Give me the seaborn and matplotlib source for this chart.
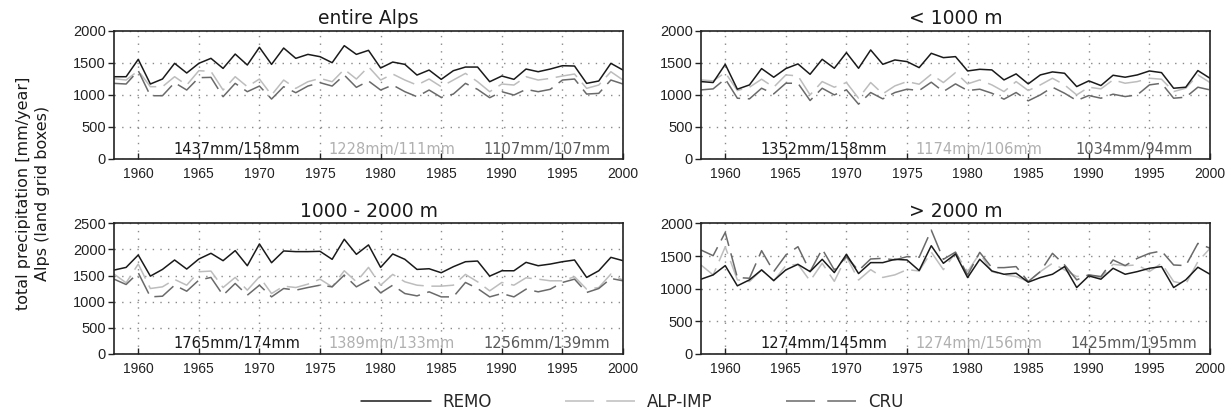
import numpy as np
import pandas as pd
import seaborn as sns
import matplotlib
matplotlib.use("Agg")
import matplotlib.pyplot as plt
from matplotlib.lines import Line2D

years = list(range(1958, 2001))

# ---- entire Alps ----
remo_all = [1281, 1281, 1552, 1167, 1245, 1490, 1339, 1490, 1568, 1411, 1635, 1464, 1740, 1474,
            1729, 1568, 1630, 1594, 1500, 1766, 1630, 1693, 1417, 1510, 1474, 1307, 1385, 1240,
            1375, 1432, 1432, 1203, 1292, 1240, 1401, 1359, 1401, 1453, 1448, 1177, 1214, 1490, 1385]
alp_all = [1250, 1229, 1375, 1125, 1125, 1281, 1151, 1375, 1365, 1073, 1281, 1125, 1245, 995,
           1229, 1099, 1203, 1255, 1203, 1396, 1245, 1437, 1229, 1323, 1229, 1151, 1245, 1125,
           1229, 1333, 1203, 1047, 1167, 1151, 1281, 1229, 1255, 1292, 1323, 1099, 1151, 1359, 1229]
cru_all = [1177, 1167, 1375, 984, 984, 1188, 1073, 1266, 1271, 969, 1177, 1047, 1135, 932,
           1125, 1031, 1135, 1188, 1135, 1307, 1115, 1214, 1073, 1151, 1047, 969, 1073, 958,
           1010, 1177, 1083, 953, 1047, 995, 1083, 1047, 1083, 1229, 1245, 1010, 1021, 1229, 1167]

# ---- < 1000 m ----
remo_lt1000 = [1205, 1190, 1475, 1086, 1153, 1408, 1273, 1408, 1481, 1319, 1553, 1413, 1657, 1413,
               1699, 1475, 1543, 1517, 1423, 1647, 1579, 1595, 1371, 1397, 1387, 1231, 1325, 1169,
               1309, 1356, 1335, 1127, 1216, 1143, 1304, 1273, 1309, 1371, 1345, 1101, 1117, 1377, 1257]
alp_lt1000 = [1231, 1216, 1345, 1065, 1117, 1242, 1117, 1309, 1294, 997, 1205, 1117, 1190, 945,
              1190, 1013, 1138, 1205, 1164, 1319, 1190, 1345, 1169, 1231, 1153, 1049, 1205, 1065,
              1153, 1257, 1153, 997, 1117, 1091, 1231, 1179, 1205, 1257, 1242, 1049, 1101, 1309, 1190]
cru_lt1000 = [1075, 1091, 1247, 945, 935, 1101, 1013, 1179, 1179, 909, 1101, 997, 1075, 852,
              1034, 935, 1034, 1086, 1065, 1195, 1049, 1169, 1065, 1086, 1023, 930, 1034, 904,
              997, 1117, 1023, 909, 987, 945, 1008, 971, 997, 1153, 1179, 945, 961, 1117, 1075]

# ---- 1000 - 2000 m ----
remo_mid = [1604, 1656, 1894, 1488, 1617, 1798, 1624, 1817, 1927, 1785, 1978, 1688, 2107, 1746,
            1972, 1959, 1959, 1965, 1811, 2197, 1907, 2088, 1656, 1914, 1811, 1617, 1630, 1553,
            1669, 1765, 1778, 1488, 1591, 1591, 1753, 1688, 1720, 1765, 1798, 1463, 1591, 1849, 1785]
alp_mid = [1527, 1360, 1720, 1250, 1282, 1424, 1314, 1572, 1585, 1269, 1463, 1218, 1476, 1153,
           1295, 1269, 1334, 1430, 1282, 1591, 1379, 1656, 1314, 1521, 1379, 1314, 1295, 1295,
           1314, 1521, 1379, 1205, 1366, 1314, 1456, 1430, 1398, 1398, 1476, 1237, 1269, 1527, 1411]
cru_mid = [1430, 1327, 1553, 1089, 1102, 1314, 1198, 1411, 1463, 1121, 1347, 1121, 1314, 1089,
           1250, 1218, 1269, 1314, 1282, 1508, 1282, 1411, 1166, 1314, 1153, 1108, 1186, 1089,
           1089, 1366, 1250, 1089, 1153, 1089, 1237, 1186, 1237, 1366, 1430, 1173, 1250, 1443, 1398]

# ---- > 2000 m ----
remo_gt2000 = [1143, 1209, 1352, 1041, 1133, 1286, 1122, 1286, 1372, 1260, 1449, 1245, 1526, 1230,
               1398, 1398, 1449, 1439, 1276, 1658, 1388, 1530, 1168, 1449, 1270, 1219, 1235, 1097,
               1168, 1219, 1337, 1015, 1194, 1143, 1311, 1219, 1260, 1311, 1337, 1015, 1133, 1327, 1219]
alp_gt2000 = [1362, 1209, 1640, 1133, 1107, 1286, 1117, 1352, 1372, 1117, 1388, 1110, 1490, 1130,
              1290, 1170, 1210, 1290, 1270, 1560, 1290, 1550, 1260, 1541, 1260, 1209, 1184, 1107,
              1260, 1388, 1286, 1184, 1209, 1168, 1372, 1352, 1362, 1260, 1388, 1107, 1066, 1413, 1617]
cru_gt2000 = [1592, 1505, 1862, 1168, 1158, 1582, 1260, 1515, 1643, 1260, 1607, 1286, 1490, 1276,
              1454, 1464, 1439, 1490, 1480, 1898, 1449, 1560, 1209, 1556, 1321, 1321, 1337, 1107,
              1260, 1541, 1362, 1133, 1209, 1184, 1439, 1352, 1464, 1541, 1577, 1362, 1352, 1694, 1620]

datasets = ["REMO", "ALP-IMP", "CRU"]
panel_titles = ["entire Alps", "< 1000 m", "1000 - 2000 m", "> 2000 m"]
panel_series = [
    (remo_all, alp_all, cru_all),
    (remo_lt1000, alp_lt1000, cru_lt1000),
    (remo_mid, alp_mid, cru_mid),
    (remo_gt2000, alp_gt2000, cru_gt2000),
]
panel_stats = [
    ["1437mm/158mm", "1228mm/111mm", "1107mm/107mm"],
    ["1352mm/158mm", "1174mm/106mm", "1034mm/94mm"],
    ["1765mm/174mm", "1389mm/133mm", "1256mm/139mm"],
    ["1274mm/145mm", "1274mm/156mm", "1425mm/195mm"],
]
panel_ymax = [2000, 2000, 2500, 2000]
xticks = [1960, 1965, 1970, 1975, 1980, 1985, 1990, 1995, 2000]

colors = {"REMO": "#1a1a1a", "ALP-IMP": "#bdbdbd", "CRU": "#6a6a6a"}
text_colors = ["#1a1a1a", "#b0b0b0", "#5a5a5a"]
dashes = {"REMO": "", "ALP-IMP": (15, 5), "CRU": (15, 5)}

sns.set_style("white")
plt.rcParams["font.family"] = ["DejaVu Sans"]

W, H = 1232, 411
fig = plt.figure(figsize=(W / 100, H / 100), dpi=100)

# axes boxes in pixels: (left, top, right, bottom)
boxes = [(114, 30.7, 623, 158.7), (701, 30.7, 1210, 158.7),
         (114, 223.5, 623, 353.5), (701, 223.5, 1210, 353.5)]

for i, (box, title, series, stats, ymax) in enumerate(
        zip(boxes, panel_titles, panel_series, panel_stats, panel_ymax)):
    l, t, r, b = box
    ax = fig.add_axes([l / W, 1 - b / H, (r - l) / W, (b - t) / H])
    df = pd.DataFrame({
        "year": years * 3,
        "value": list(series[0]) + list(series[1]) + list(series[2]),
        "dataset": sum([[d] * len(years) for d in datasets], []),
    })
    # draw lighter series first so REMO is on top
    sns.lineplot(data=df, x="year", y="value", hue="dataset", style="dataset",
                 hue_order=["ALP-IMP", "CRU", "REMO"], style_order=["ALP-IMP", "CRU", "REMO"],
                 palette=colors, dashes=dashes, linewidth=1.1, legend=False, ax=ax)
    ax.set_xlim(1958, 2000)
    ax.set_ylim(0, ymax)
    ax.set_xticks(xticks)
    ax.set_yticks(list(range(0, ymax + 1, 500)))
    ax.grid(True, color="#8a8a8a", linestyle=(0, (1, 4.5)), linewidth=1.0)
    ax.set_xlabel("")
    ax.set_ylabel("")
    for s in ax.spines.values():
        s.set_visible(True)
        s.set_color("#222222")
        s.set_linewidth(1.2)
    ax.tick_params(axis="x", bottom=True, direction="in", length=4, width=1, pad=6,
                   labelsize=10, labelfontfamily="Liberation Sans", colors="#222222")
    ax.tick_params(axis="y", left=True, direction="out", length=4, width=1, pad=2,
                   labelsize=10.5, labelfontfamily="Liberation Sans", colors="#222222")
    ax.set_title(title, fontsize=13.5, pad=5, color="#1a1a1a")
    for xf, txt, c in zip([0.242, 0.546, 0.851], stats, text_colors):
        ax.text(xf, 0.075, txt, transform=ax.transAxes, ha="center", va="center",
                fontsize=10.5, color=c)

fig.text(33 / W, 1 - 193 / H, "total precipitation [mm/year]\nAlps (land grid boxes)",
         rotation=90, ha="center", va="center", fontsize=11.5, multialignment="center",
         linespacing=1.3, color="#1a1a1a")

handles = [Line2D([], [], color=colors[d], linewidth=1.1,
                  linestyle="-" if d == "REMO" else (0, (19, 8))) for d in datasets]
fig.legend(handles, datasets, loc="center", bbox_to_anchor=(632 / W, 1 - 401.5 / H),
           ncol=3, frameon=False, fontsize=12, handlelength=4.2, handletextpad=0.7,
           columnspacing=4.4)

fig.savefig("out.png", dpi=100)
